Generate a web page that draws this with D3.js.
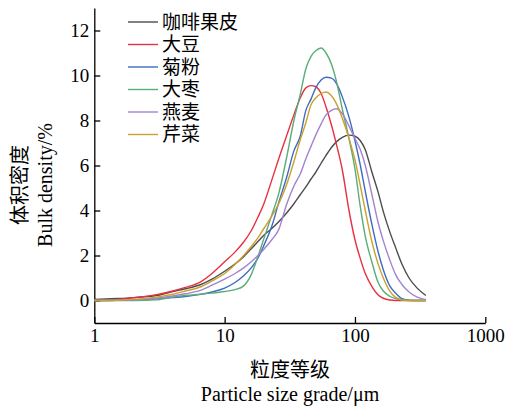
<!DOCTYPE html>
<html>
<head>
<meta charset="utf-8">
<script src="https://cdn.jsdelivr.net/npm/d3@7"></script>
<style>
  html, body { margin: 0; padding: 0; background: #fff; }
</style>
</head>
<body>
<div id="chart"></div>
<script>
// particle size grid (µm)
const sizes = [1, 1.5, 2, 3, 4, 5, 6.5, 8, 10, 12, 14, 16, 18, 20, 23, 26, 30, 34, 38, 42, 46, 50, 55, 60, 66, 72, 80, 90, 100, 110, 120, 135, 150, 165, 185, 205, 230, 260, 300, 350];

const coffee  = [0.05, 0.09, 0.13, 0.22, 0.4, 0.52, 0.7, 0.95, 1.3, 1.62, 1.95, 2.3, 2.62, 2.9, 3.2, 3.5, 3.9, 4.3, 4.7, 5.05, 5.4, 5.7, 6.1, 6.45, 6.8, 7.05, 7.25, 7.35, 7.3, 7.1, 6.7, 5.7, 4.85, 3.95, 3.05, 2.35, 1.6, 1.0, 0.55, 0.22];
const soybean = [0, 0.05, 0.12, 0.26, 0.42, 0.58, 0.82, 1.2, 1.72, 2.15, 2.6, 3.1, 3.7, 4.3, 5.35, 6.3, 7.35, 8.25, 9.0, 9.45, 9.55, 9.5, 9.2, 8.6, 7.8, 6.95, 5.8, 4.0, 2.7, 1.85, 1.2, 0.62, 0.26, 0.1, 0.02, 0, 0, 0, 0, 0];
const inulin  = [0, 0.01, 0.03, 0.08, 0.13, 0.18, 0.27, 0.38, 0.55, 0.8, 1.1, 1.45, 1.88, 2.45, 3.3, 4.35, 5.5, 6.65, 7.3, 8.45, 8.95, 9.45, 9.8, 9.92, 9.88, 9.65, 9.05, 8.15, 7.1, 6.0, 4.85, 3.37, 2.2, 1.37, 0.65, 0.33, 0.08, 0.01, 0, 0];
const jujube  = [0, 0, 0, 0.03, 0.15, 0.22, 0.28, 0.33, 0.4, 0.48, 0.65, 1.15, 1.95, 2.75, 3.8, 4.75, 6.4, 8.0, 9.15, 10.3, 10.85, 11.1, 11.22, 11.0, 10.5, 9.75, 8.5, 7.2, 5.85, 4.15, 2.85, 1.7, 0.82, 0.42, 0.19, 0.08, 0.02, 0, 0, 0];
const oat     = [0, 0.01, 0.03, 0.1, 0.2, 0.3, 0.45, 0.68, 0.95, 1.2, 1.45, 1.72, 2.0, 2.28, 2.7, 3.15, 4.3, 5.09, 5.62, 6.3, 6.85, 7.35, 7.85, 8.25, 8.45, 8.52, 8.3, 7.75, 7.2, 6.7, 6.0, 4.7, 3.5, 2.65, 1.8, 1.15, 0.7, 0.38, 0.15, 0.04];
const celery  = [0, 0.01, 0.05, 0.15, 0.28, 0.42, 0.6, 0.87, 1.2, 1.6, 2.0, 2.4, 2.78, 3.2, 3.75, 4.3, 5.18, 6.17, 7.13, 7.9, 8.7, 9.0, 9.2, 9.27, 9.1, 8.75, 8.1, 7.2, 6.25, 5.1, 4.0, 2.6, 1.65, 1.0, 0.42, 0.14, 0.03, 0, 0, 0];

const names  = ["咖啡果皮", "大豆", "菊粉", "大枣", "燕麦", "芹菜"];
const colors = ["#4d4d4d", "#e8303f", "#3f6cc0", "#5aac79", "#a283cf", "#caa12e"];

const xTicks = [1, 10, 100, 1000];
const yTicks = [0, 2, 4, 6, 8, 10, 12];

const series = [coffee, soybean, inulin, jujube, oat, celery];

var W = 511, H = 407;
var serif = "'Liberation Serif', 'Times New Roman', serif";
var cjk = "'Noto Sans CJK SC', sans-serif";

var svg = d3.select("#chart")
    .append("svg")
    .attr("width", W)
    .attr("height", H)
    .style("display", "block");

svg.append("rect").attr("width", W).attr("height", H).attr("fill", "#fff");

var x = d3.scaleLog()
    .domain([1, 1000])
    .range([94.3, 485.3]);

var y = d3.scaleLinear()
    .domain([-1, 13])
    .range([323, 8]);

// X axis
var gx = svg.append("g")
    .attr("transform", "translate(0," + y(-1) + ")")
    .call(d3.axisBottom(x)
        .tickValues(xTicks)
        .tickFormat(d3.format("d"))
        .tickSizeInner(-6)
        .tickSizeOuter(0)
        .tickPadding(6));

// Y axis
var gy = svg.append("g")
    .attr("transform", "translate(" + x(1) + ",0)")
    .call(d3.axisLeft(y)
        .tickValues(yTicks)
        .tickSizeInner(-6)
        .tickSizeOuter(0)
        .tickPadding(5));

[gx, gy].forEach(g => {
    g.select(".domain").attr("stroke", "#000").attr("stroke-width", 1.3);
    g.selectAll(".tick line").attr("stroke", "#000").attr("stroke-width", 1.3);
    g.selectAll(".tick text")
        .attr("fill", "#000")
        .style("font-family", serif)
        .style("font-size", "19px");
});

// lines
var line = d3.line()
    .x((d, i) => x(sizes[i]))
    .y(d => y(d))
    .curve(d3.curveMonotoneX);

series.forEach((s, k) => {
    svg.append("path")
        .datum(s)
        .attr("fill", "none")
        .attr("stroke", colors[k])
        .attr("stroke-width", 1.4)
        .attr("d", line);
});

// legend
var legend = svg.append("g");
names.forEach((n, k) => {
    var ly = 22 + k * 22.5;
    legend.append("line")
        .attr("x1", 128).attr("x2", 158)
        .attr("y1", ly).attr("y2", ly)
        .attr("stroke", colors[k])
        .attr("stroke-width", 1.4);
    legend.append("text")
        .attr("x", 162)
        .attr("y", ly)
        .attr("dy", "0.35em")
        .style("font-family", cjk)
        .style("font-size", "19px")
        .attr("fill", "#000")
        .text(n);
});

// axis titles
svg.append("text")
    .attr("transform", "translate(20,185) rotate(-90)")
    .attr("text-anchor", "middle")
    .attr("dy", "0.35em")
    .style("font-family", cjk)
    .style("font-size", "20px")
    .text("体积密度");

svg.append("text")
    .attr("transform", "translate(52,185) rotate(-90)")
    .attr("text-anchor", "middle")
    .style("font-family", serif)
    .style("font-size", "20px")
    .text("Bulk density/%");

svg.append("text")
    .attr("x", 290)
    .attr("y", 370)
    .attr("text-anchor", "middle")
    .attr("dy", "0.35em")
    .style("font-family", cjk)
    .style("font-size", "20px")
    .text("粒度等级");

svg.append("text")
    .attr("x", 290)
    .attr("y", 401)
    .attr("text-anchor", "middle")
    .style("font-family", serif)
    .style("font-size", "20px")
    .text("Particle size grade/μm");
</script>
</body>
</html>
